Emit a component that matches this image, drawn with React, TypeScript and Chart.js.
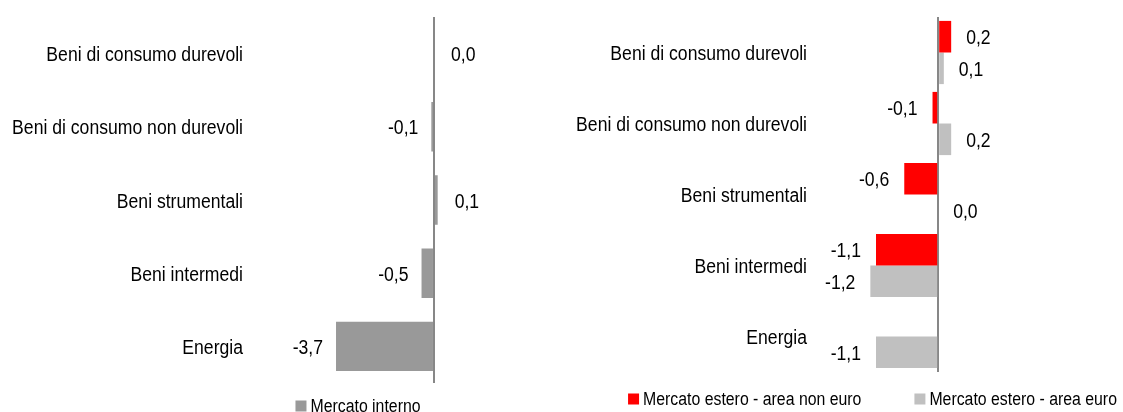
import React, { useEffect, useRef } from 'react';
import { Chart, registerables } from 'chart.js';

Chart.register(...registerables);

// ---- Data ----
const categories = [
  'Beni di consumo durevoli',
  'Beni di consumo non durevoli',
  'Beni strumentali',
  'Beni intermedi',
  'Energia',
];
const mercatoInterno = [0.0, -0.1, 0.14, -0.47, -3.7];
const areaNonEuro: (number | null)[] = [0.23, -0.1, -0.6, -1.1, null];
const areaEuro = [0.1, 0.23, 0.0, -1.2, -1.1];
const seriesNames = ['Mercato interno', 'Mercato estero - area non euro', 'Mercato estero - area euro'];
const seriesColors = ['#999999', '#FF0000', '#C0C0C0'];

const FONT_FAMILY = "'Liberation Sans', Arial, sans-serif";
const NARROW = 0.88; // horizontal squeeze to imitate a narrow face

function narrowText(ctx: any, text: string, x: number, y: number, align: string) {
  ctx.save();
  ctx.translate(x, y);
  ctx.scale(NARROW, 1);
  ctx.textAlign = align;
  ctx.fillText(text, 0, 0);
  ctx.restore();
}

const categoryLabelsPlugin = {
  id: 'categoryLabels',
  afterDraw(chart: any, _args: any, opts: any) {
    const ctx = chart.ctx;
    const yScale = chart.scales.y;
    ctx.save();
    ctx.font = `${opts.size}px ${FONT_FAMILY}`;
    ctx.fillStyle = '#000';
    ctx.textBaseline = 'middle';
    chart.data.labels.forEach((lab: string, i: number) => {
      narrowText(ctx, lab, opts.right, yScale.getPixelForValue(i) + opts.dy, 'right');
    });
    ctx.restore();
  },
};

const valueLabelsPlugin = {
  id: 'valueLabels',
  afterDatasetsDraw(chart: any, _args: any, opts: any) {
    const ctx = chart.ctx;
    ctx.save();
    ctx.font = `${opts.size}px ${FONT_FAMILY}`;
    ctx.fillStyle = '#000';
    ctx.textBaseline = 'middle';
    chart.data.datasets.forEach((ds: any, di: number) => {
      const meta = chart.getDatasetMeta(di);
      meta.data.forEach((bar: any, i: number) => {
        const v = ds.data[i];
        if (v === null || v === undefined) return;
        const txt = v.toFixed(1).replace('.', ',');
        if (v < 0) {
          narrowText(ctx, txt, bar.x - opts.gapNeg, bar.y + opts.dy, 'right');
        } else {
          narrowText(ctx, txt, Math.max(bar.x, bar.base) + opts.gapPos, bar.y + opts.dy, 'left');
        }
      });
    });
    ctx.restore();
  },
};

const customLegendPlugin = {
  id: 'customLegend',
  afterDraw(chart: any, _args: any, opts: any) {
    const ctx = chart.ctx;
    ctx.save();
    ctx.font = `${opts.size}px ${FONT_FAMILY}`;
    ctx.textBaseline = 'middle';
    const items = chart.data.datasets.map((ds: any) => ({ text: ds.label, color: ds.backgroundColor }));
    const widths = items.map((it: any) => opts.box + opts.boxGap + ctx.measureText(it.text).width * NARROW);
    const total = widths.reduce((a: number, b: number) => a + b, 0) + opts.itemGap * (items.length - 1);
    let x = opts.centerX - total / 2;
    items.forEach((it: any, i: number) => {
      ctx.fillStyle = it.color;
      ctx.fillRect(x, opts.y - opts.box / 2, opts.box, opts.box);
      ctx.fillStyle = '#000';
      narrowText(ctx, it.text, x + opts.box + opts.boxGap, opts.y + 1, 'left');
      x += widths[i] + opts.itemGap;
    });
    ctx.restore();
  },
};

type PanelProps = {
  left: number;
  width: number;
  datasets: any[];
  xMin: number;
  xMax: number;
  areaLeft: number;
  labelRight: number;
  padBottom: number;
  catPct: number;
  barPct: number;
  legend: any;
  labels: any;
};

function BarPanel(p: PanelProps) {
  const ref = useRef<HTMLCanvasElement>(null);
  useEffect(() => {
    if (!ref.current) return;
    const chart = new Chart(ref.current, {
      type: 'bar',
      data: {
        labels: categories,
        datasets: p.datasets.map((d) => ({
          ...d,
          borderWidth: 0,
          categoryPercentage: p.catPct,
          barPercentage: p.barPct,
        })),
      },
      options: {
        indexAxis: 'y',
        responsive: false,
        animation: false,
        layout: { padding: { top: 17, bottom: p.padBottom, left: 0, right: 0 } },
        scales: {
          x: {
            type: 'linear',
            min: p.xMin,
            max: p.xMax,
            ticks: { display: false },
            border: { display: false },
            grid: {
              drawTicks: false,
              lineWidth: 2,
              color: (c: any) => (c.tick && c.tick.value === 0 ? '#878787' : 'rgba(0,0,0,0)'),
            },
            afterBuildTicks: (axis: any) => {
              axis.ticks = [{ value: 0 }];
            },
          },
          y: {
            grid: { display: false, drawTicks: false },
            border: { display: false },
            ticks: { display: false },
            afterFit: (scale: any) => {
              scale.width = p.areaLeft;
              scale.paddingTop = 0;
              scale.paddingBottom = 0;
            },
          },
        },
        plugins: {
          legend: { display: false },
          tooltip: { enabled: false },
          customLegend: p.legend,
          valueLabels: p.labels,
          categoryLabels: { right: p.labelRight, size: 20, dy: 2 },
        } as any,
      },
      plugins: [valueLabelsPlugin, customLegendPlugin, categoryLabelsPlugin],
    });
    return () => chart.destroy();
  }, []);
  return (
    <canvas
      ref={ref}
      width={p.width}
      height={412}
      style={{ position: 'absolute', left: p.left, top: 0, display: 'block' }}
    />
  );
}

export default function App() {
  return (
    <div style={{ position: 'absolute', left: 0, top: 0, width: 1123, height: 412, overflow: 'hidden', background: '#fff' }}>
      <BarPanel
        left={0}
        width={560}
        datasets={[{ label: seriesNames[0], data: mercatoInterno, backgroundColor: seriesColors[0] }]}
        xMin={-5}
        xMax={4.76}
        areaLeft={301.6}
        labelRight={243}
        padBottom={29}
        catPct={0.75}
        barPct={0.9}
        legend={{ centerX: 358, y: 406, size: 18, box: 11, boxGap: 4, itemGap: 53 }}
        labels={{ size: 20, gapPos: 17, gapNeg: 13, dy: 2 }}
      />
      <BarPanel
        left={560}
        width={563}
        datasets={[
          { label: seriesNames[1], data: areaNonEuro, backgroundColor: seriesColors[1] },
          { label: seriesNames[2], data: areaEuro, backgroundColor: seriesColors[2] },
        ]}
        xMin={-1.56}
        xMax={3.27}
        areaLeft={290}
        labelRight={247}
        padBottom={40}
        catPct={0.89}
        barPct={1.0}
        legend={{ centerX: 312.5, y: 399, size: 18, box: 11, boxGap: 4, itemGap: 53 }}
        labels={{ size: 20, gapPos: 15, gapNeg: 15, dy: 2 }}
      />
    </div>
  );
}
